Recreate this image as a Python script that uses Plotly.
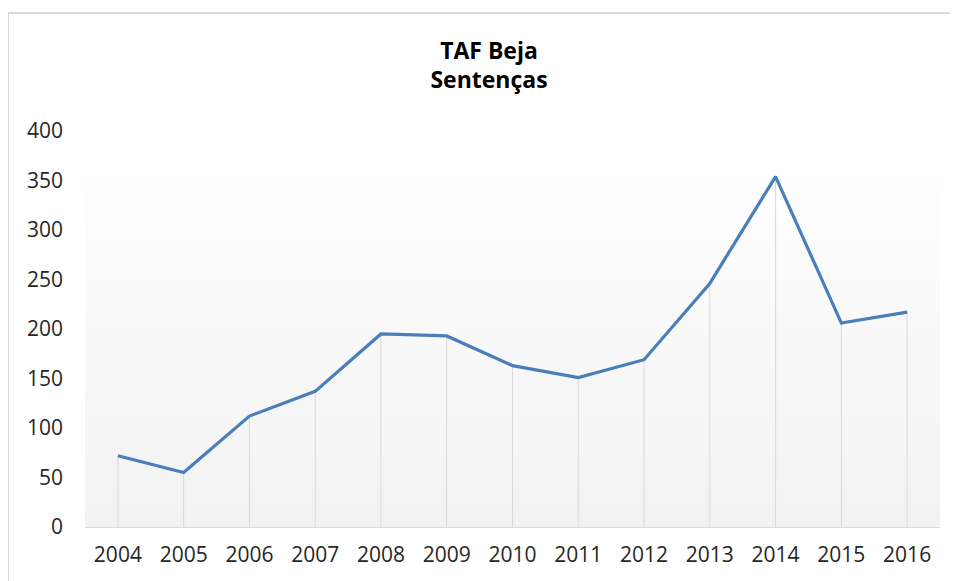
import plotly.graph_objects as go

years = ["2004", "2005", "2006", "2007", "2008", "2009", "2010",
         "2011", "2012", "2013", "2014", "2015", "2016"]
sentencas = [72, 55, 112, 137, 195, 193, 163, 151, 169, 246, 354, 206, 217]
y_ticks = [0, 50, 100, 150, 200, 250, 300, 350, 400]

W, H = 958, 581
OFF = 8  # page offset of the figure inside the browser window
# plot area in page pixels
PL, PR, PT, PB = 85, 940, 131, 527
L = PL - OFF
T = PT - OFF
R = W - (PR - OFF)
B = H - (PB - OFF)
plot_w = PR - PL
plot_h = PB - PT

def px_to_paper_x(px):
    return (px - PL) / plot_w

def px_to_paper_y(py):
    return (PB - py) / plot_h

fig = go.Figure()

# drop lines
dx, dy = [], []
for yr, v in zip(years, sentencas):
    dx += [yr, yr, None]
    dy += [0, v, None]
fig.add_trace(go.Scatter(x=dx, y=dy, mode="lines",
                         line=dict(color="#d9d9d9", width=1),
                         hoverinfo="skip", showlegend=False))

fig.add_trace(go.Scatter(x=years, y=sentencas, mode="lines",
                         line=dict(color="#4a7ebb", width=3.2),
                         showlegend=False))

shapes = []
# gradient background of plot area
n = 40
top = px_to_paper_y(176)
c_top = (254, 254, 254)
c_bot = (242, 242, 242)
for i in range(n):
    f = (i + 0.5) / n
    c = tuple(round(c_bot[k] + (c_top[k] - c_bot[k]) * f) for k in range(3))
    shapes.append(dict(type="rect", xref="paper", yref="paper",
                       x0=0, x1=1, y0=top * i / n, y1=top * (i + 1) / n + 0.002,
                       fillcolor="rgb(%d,%d,%d)" % c, line=dict(width=0),
                       layer="below"))
# chart border (top and left edges; the others fall outside the window)
bx0 = px_to_paper_x(8)
bx1 = px_to_paper_x(1000)
by0 = px_to_paper_y(600)
by1 = px_to_paper_y(13)
shapes.append(dict(type="line", xref="paper", yref="paper",
                   x0=bx0, x1=bx1, y0=by1, y1=by1,
                   line=dict(color="#d9d9d9", width=2), layer="below"))
shapes.append(dict(type="line", xref="paper", yref="paper",
                   x0=bx0, x1=bx0, y0=by0, y1=by1,
                   line=dict(color="#d9d9d9", width=2), layer="below"))

fig.update_layout(
    width=W, height=H,
    margin=dict(l=L, r=R, t=T, b=B),
    paper_bgcolor="white", plot_bgcolor="white",
    shapes=shapes,
    title=dict(text="<b>TAF Beja</b><br><b>Sentenças</b>",
               x=(489 - OFF) / W, xanchor="center", xref="container",
               y=1 - (66 - OFF - 7.5) / H, yanchor="middle", yref="container",
               font=dict(family="Open Sans", size=23, color="#000000")),
    font=dict(family="Open Sans", size=21, color="#262626"),
    xaxis=dict(type="category", range=[-0.5, len(years) - 0.5],
               showgrid=False, zeroline=False, showline=True,
               linecolor="#d9d9d9", linewidth=1, ticks="",
               ticklabelstandoff=9, tickfont=dict(size=21, color="#262626")),
    yaxis=dict(range=[0, 400], tickvals=y_ticks, showgrid=False,
               zeroline=False, showline=False, ticks="",
               ticklabelstandoff=21, tickfont=dict(size=21, color="#262626")),
)

fig.write_html("out.html")
